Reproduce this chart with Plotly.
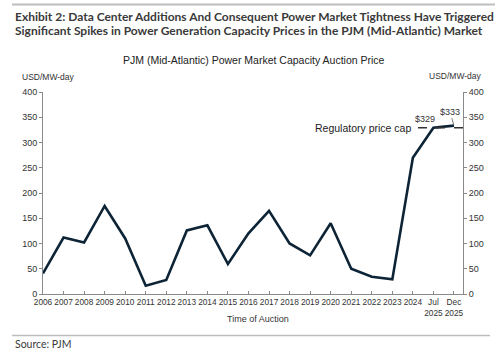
import plotly.graph_objects as go

categories = ["2006", "2007", "2008", "2009", "2010", "2011", "2012", "2013", "2014",
              "2015", "2016", "2017", "2018", "2019", "2020", "2021", "2022", "2023",
              "2024", "Jul<br>2025", "Dec<br>2025"]
prices = [40.80, 111.92, 102.04, 174.29, 110.00, 16.46, 27.73, 125.99, 136.00,
          59.37, 120.00, 164.77, 100.00, 76.53, 140.00, 50.00, 34.13, 28.92,
          269.92, 329.17, 333.44]
price_cap = 329.17
y_ticks = [0, 50, 100, 150, 200, 250, 300, 350, 400]

LINE = "#0d2436"
TXT = "#333333"
AX = "#8a8a8a"
FONT = "Liberation Sans, Arial, sans-serif"
TFONT = "Lato, sans-serif"

idx = list(range(len(categories)))

fig = go.Figure()
fig.add_trace(go.Scatter(x=idx, y=prices, mode="lines",
                         line=dict(color=LINE, width=2.6), showlegend=False,
                         hoverinfo="skip"))
fig.add_trace(go.Scatter(x=idx, y=prices, mode="lines", yaxis="y2",
                         line=dict(color="rgba(0,0,0,0)", width=0), showlegend=False,
                         hoverinfo="skip"))

n = len(categories)
xmax = n - 1 + 0.44
fig.update_layout(
    width=500, height=352,
    margin=dict(l=43, r=37, t=92, b=58),
    paper_bgcolor="white", plot_bgcolor="white",
    font=dict(family=FONT, size=9, color=TXT),
    xaxis=dict(range=[0, xmax], tickmode="array", tickvals=idx, ticktext=categories,
               tickangle=0,
               showgrid=False, zeroline=False, showline=True, linecolor=AX, linewidth=1,
               ticks="inside", ticklen=3, tickcolor=AX,
               tickfont=dict(size=8.3, color=TXT)),
    yaxis=dict(range=[0, 400], tickvals=y_ticks, showgrid=False, zeroline=False,
               showline=True, linecolor=AX, linewidth=1, ticks="outside", ticklen=3,
               tickcolor=AX, tickfont=dict(size=9, color=TXT)),
    yaxis2=dict(range=[0, 400], tickvals=y_ticks, overlaying="y", side="right",
                showgrid=False, zeroline=False, showline=True, linecolor=AX, linewidth=1,
                ticks="outside", ticklen=3, tickcolor=AX,
                tickfont=dict(size=9, color=TXT)),
)

# regulatory price cap dashed line
fig.add_shape(type="line", xref="x", yref="y", x0=n - 1 - 1.75, x1=xmax,
              y0=price_cap, y1=price_cap,
              line=dict(color="#333333", width=1.5, dash="dash"))

def px(x):
    return (x - 43) / 420

def py(y):
    return (352 - 58 - y) / 202

ann = []
ann.append(dict(xref="paper", yref="paper", x=px(13), y=py(17), xanchor="left",
                yanchor="middle", showarrow=False, align="left",
                text="<b>Exhibit 2: Data Center Additions And Consequent Power Market Tightness Have Triggered</b>",
                font=dict(family=TFONT, size=12, color="#3a3a3a")))
ann.append(dict(xref="paper", yref="paper", x=px(13), y=py(31), xanchor="left",
                yanchor="middle", showarrow=False, align="left",
                text="<b>Significant Spikes in Power Generation Capacity Prices in the PJM (Mid-Atlantic) Market</b>",
                font=dict(family=TFONT, size=12, color="#3a3a3a")))
ann.append(dict(xref="paper", yref="paper", x=px(253.5), y=py(60),
                xanchor="center", yanchor="middle", showarrow=False,
                text="PJM (Mid-Atlantic) Power Market Capacity Auction Price",
                font=dict(size=10.5, color="#222222")))
ann.append(dict(xref="paper", yref="paper", x=px(20), y=py(77),
                xanchor="left", yanchor="middle", showarrow=False, text="USD/MW-day",
                font=dict(size=8.5, color=TXT)))
ann.append(dict(xref="paper", yref="paper", x=px(484), y=py(76),
                xanchor="right", yanchor="middle", showarrow=False, text="USD/MW-day",
                font=dict(size=8.5, color=TXT)))
ann.append(dict(xref="paper", yref="paper", x=px(258), y=py(319),
                xanchor="center", yanchor="middle", showarrow=False, text="Time of Auction",
                font=dict(size=9, color=TXT)))
ann.append(dict(xref="paper", yref="paper", x=px(13), y=py(344),
                xanchor="left", yanchor="middle", showarrow=False, text="Source: PJM",
                font=dict(family=TFONT, size=10.5, color="#3a3a3a")))
ann.append(dict(xref="x", yref="y", x=n - 1 - 4.43, y=price_cap, xanchor="center",
                yanchor="middle", showarrow=False, text="Regulatory price cap",
                font=dict(size=10.5, color="#222222")))
ann.append(dict(xref="x", yref="y", x=n - 2, y=prices[-2], showarrow=False,
                text="$%d" % round(prices[-2]), xshift=-8, yshift=9,
                font=dict(size=9, color=TXT)))
ann.append(dict(xref="x", yref="y", x=n - 1, y=prices[-1], showarrow=True,
                arrowhead=0, arrowwidth=0.8, arrowcolor="#555555", ax=-4, ay=-14,
                standoff=1, text="$%d" % round(prices[-1]),
                font=dict(size=9, color=TXT)))
fig.update_layout(annotations=ann)

# separator rules
fig.add_shape(type="line", xref="paper", yref="paper", x0=px(12), x1=px(495),
              y0=py(4.5), y1=py(4.5), line=dict(color="#bdbdbd", width=2))
fig.add_shape(type="line", xref="paper", yref="paper", x0=px(12), x1=px(490),
              y0=py(335.5), y1=py(335.5), line=dict(color="#bdbdbd", width=1.5))

fig.write_html("out.html")
